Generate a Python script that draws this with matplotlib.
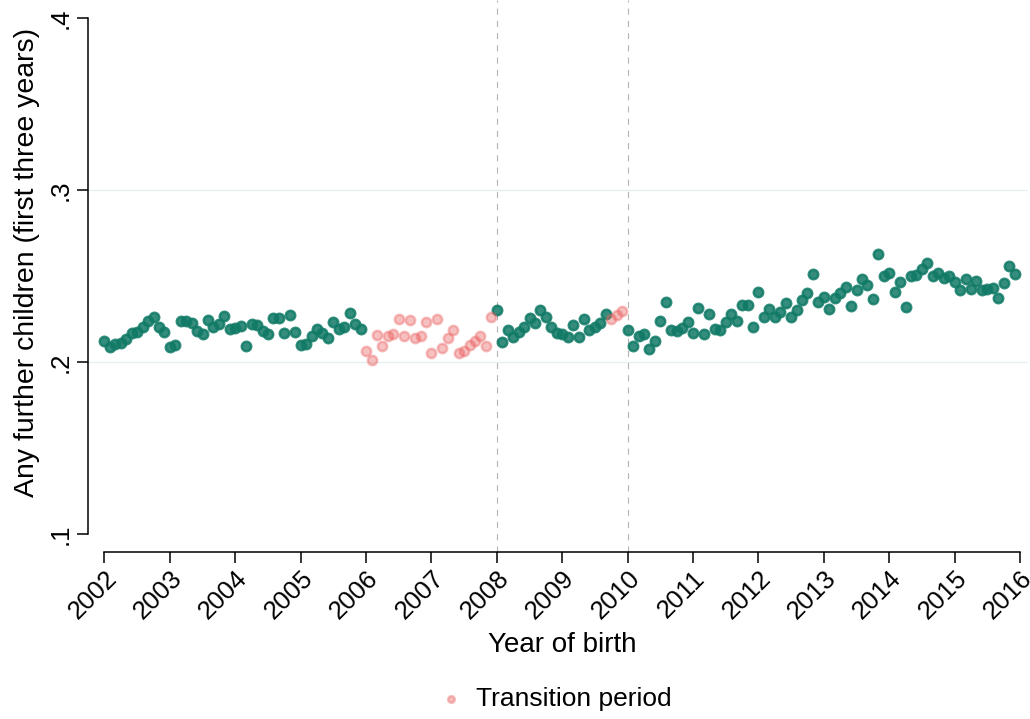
import numpy as np
import matplotlib
matplotlib.use("Agg")
import matplotlib.pyplot as plt

plt.rcParams['font.family'] = ['Liberation Sans', 'DejaVu Sans']

# Monthly birth cohorts, Jan 2002 - Dec 2015
start_year = 2002
share_further_children = [
    0.2122, 0.2085, 0.2105, 0.2112, 0.2132, 0.2167, 0.2174, 0.2203, 0.2237, 0.2262, 0.2205, 0.2172,
    0.2085, 0.2097, 0.2240, 0.2237, 0.2229, 0.2182, 0.2165, 0.2242, 0.2203, 0.2219, 0.2266, 0.2194,
    0.2196, 0.2208, 0.2095, 0.2221, 0.2215, 0.2182, 0.2165, 0.2254, 0.2256, 0.2169, 0.2271, 0.2174,
    0.2097, 0.2103, 0.2151, 0.2190, 0.2170, 0.2140, 0.2233, 0.2194, 0.2205, 0.2283, 0.2223, 0.2194,
    0.2062, 0.2012, 0.2159, 0.2091, 0.2151, 0.2163, 0.2248, 0.2149, 0.2246, 0.2138, 0.2153, 0.2231,
    0.2054, 0.2252, 0.2081, 0.2141, 0.2184, 0.2054, 0.2066, 0.2097, 0.2122, 0.2149, 0.2093, 0.2260,
    0.2302, 0.2116, 0.2188, 0.2145, 0.2174, 0.2202, 0.2258, 0.2227, 0.2301, 0.2262, 0.2205, 0.2167,
    0.2161, 0.2147, 0.2215, 0.2144, 0.2248, 0.2186, 0.2205, 0.2225, 0.2277, 0.2250, 0.2275, 0.2297,
    0.2184, 0.2091, 0.2151, 0.2161, 0.2076, 0.2122, 0.2240, 0.2349, 0.2184, 0.2182, 0.2199, 0.2231,
    0.2167, 0.2312, 0.2161, 0.2281, 0.2192, 0.2186, 0.2233, 0.2277, 0.2240, 0.2333, 0.2330, 0.2205,
    0.2405, 0.2260, 0.2310, 0.2263, 0.2291, 0.2343, 0.2262, 0.2304, 0.2362, 0.2401, 0.2510, 0.2347,
    0.2378, 0.2310, 0.2370, 0.2401, 0.2436, 0.2326, 0.2417, 0.2484, 0.2448, 0.2368, 0.2626, 0.2500,
    0.2517, 0.2407, 0.2463, 0.2322, 0.2502, 0.2506, 0.2539, 0.2576, 0.2498, 0.2519, 0.2490, 0.2500,
    0.2463, 0.2420, 0.2484, 0.2426, 0.2473, 0.2419, 0.2426, 0.2428, 0.2374, 0.2458, 0.2558, 0.2513,
]
# 1 = cohort born during the transition period
transition = ([0] * 48 + [1] * 24 + [0] * 21 + [1] * 3 + [0] * 72)

reform_years = [2008, 2010]
year_ticks = list(range(2002, 2017))
year_labels = [str(y) for y in year_ticks]
y_ticks = [0.1, 0.2, 0.3, 0.4]
y_labels = ['.1', '.2', '.3', '.4']

values = np.array(share_further_children)
is_trans = np.array(transition, dtype=bool)
birth_time = start_year + np.arange(len(values)) / 12.0

W, H = 1030, 719
fig = plt.figure(figsize=(W / 100, H / 100), dpi=100)
ax = fig.add_axes([88 / W, (H - 552) / H, 940 / W, 552 / H])

px_per_year = 65.5
px_per_unit = 1720.0
ax.set_xlim(2002 - 16.5 / px_per_year, 2016 + 8 / px_per_year)
ax.set_ylim(0.1 - 18 / px_per_unit, 0.4 + 18 / px_per_unit)

# light horizontal grid
for yv in [0.2, 0.3]:
    ax.axhline(yv, color='#e6efef', lw=0.9, zorder=0)

for xv in reform_years:
    ax.axvline(xv, color='#b4b4b4', lw=0.8, ls=(0, (5.5, 5.5)), zorder=1)

green = '#117a66'
pink = '#eb6262'
ax.scatter(birth_time[~is_trans], values[~is_trans], s=46, color=green,
           edgecolors=green, linewidths=1.8, alpha=0.85, zorder=3)
ax.scatter(birth_time[is_trans], values[is_trans], s=46, color=pink,
           edgecolors=pink, linewidths=1.8, alpha=0.4, zorder=4,
           label='Transition period')

for side in ['top', 'right']:
    ax.spines[side].set_visible(False)
ax.spines['left'].set_bounds(0.1, 0.4)
ax.spines['bottom'].set_bounds(2002, 2016)
for side in ['left', 'bottom']:
    ax.spines[side].set_linewidth(1.1)
    ax.spines[side].set_color('black')

ax.set_xticks(year_ticks)
ax.set_xticklabels(year_labels, rotation=45, ha='right', va='top',
                   rotation_mode='anchor', fontsize=18.5)
ax.set_yticks(y_ticks)
ax.set_yticklabels(y_labels, rotation=90, va='center', fontsize=18.5)
ax.tick_params(axis='both', direction='out', length=8, width=1.1, color='black')
ax.tick_params(axis='x', pad=2)
ax.tick_params(axis='y', pad=3)

ax.set_xlabel('Year of birth', fontsize=20)
ax.xaxis.set_label_coords((562 - 88) / 940, (552 - 652) / 552)
ax.xaxis.label.set_va('baseline')
ax.set_ylabel('Any further children (first three years)', fontsize=20.5)
ax.yaxis.set_label_coords((27 - 88) / 940, (552 - 262) / 552)
ax.yaxis.label.set_va('center')

fig.legend(loc='center', bbox_to_anchor=(554.5 / W, 1 - 699 / H), frameon=False,
           fontsize=19, markerscale=0.7, handlelength=1.0, handletextpad=0.45,
           borderpad=0)

fig.savefig('out.png', dpi=100, facecolor='white')
